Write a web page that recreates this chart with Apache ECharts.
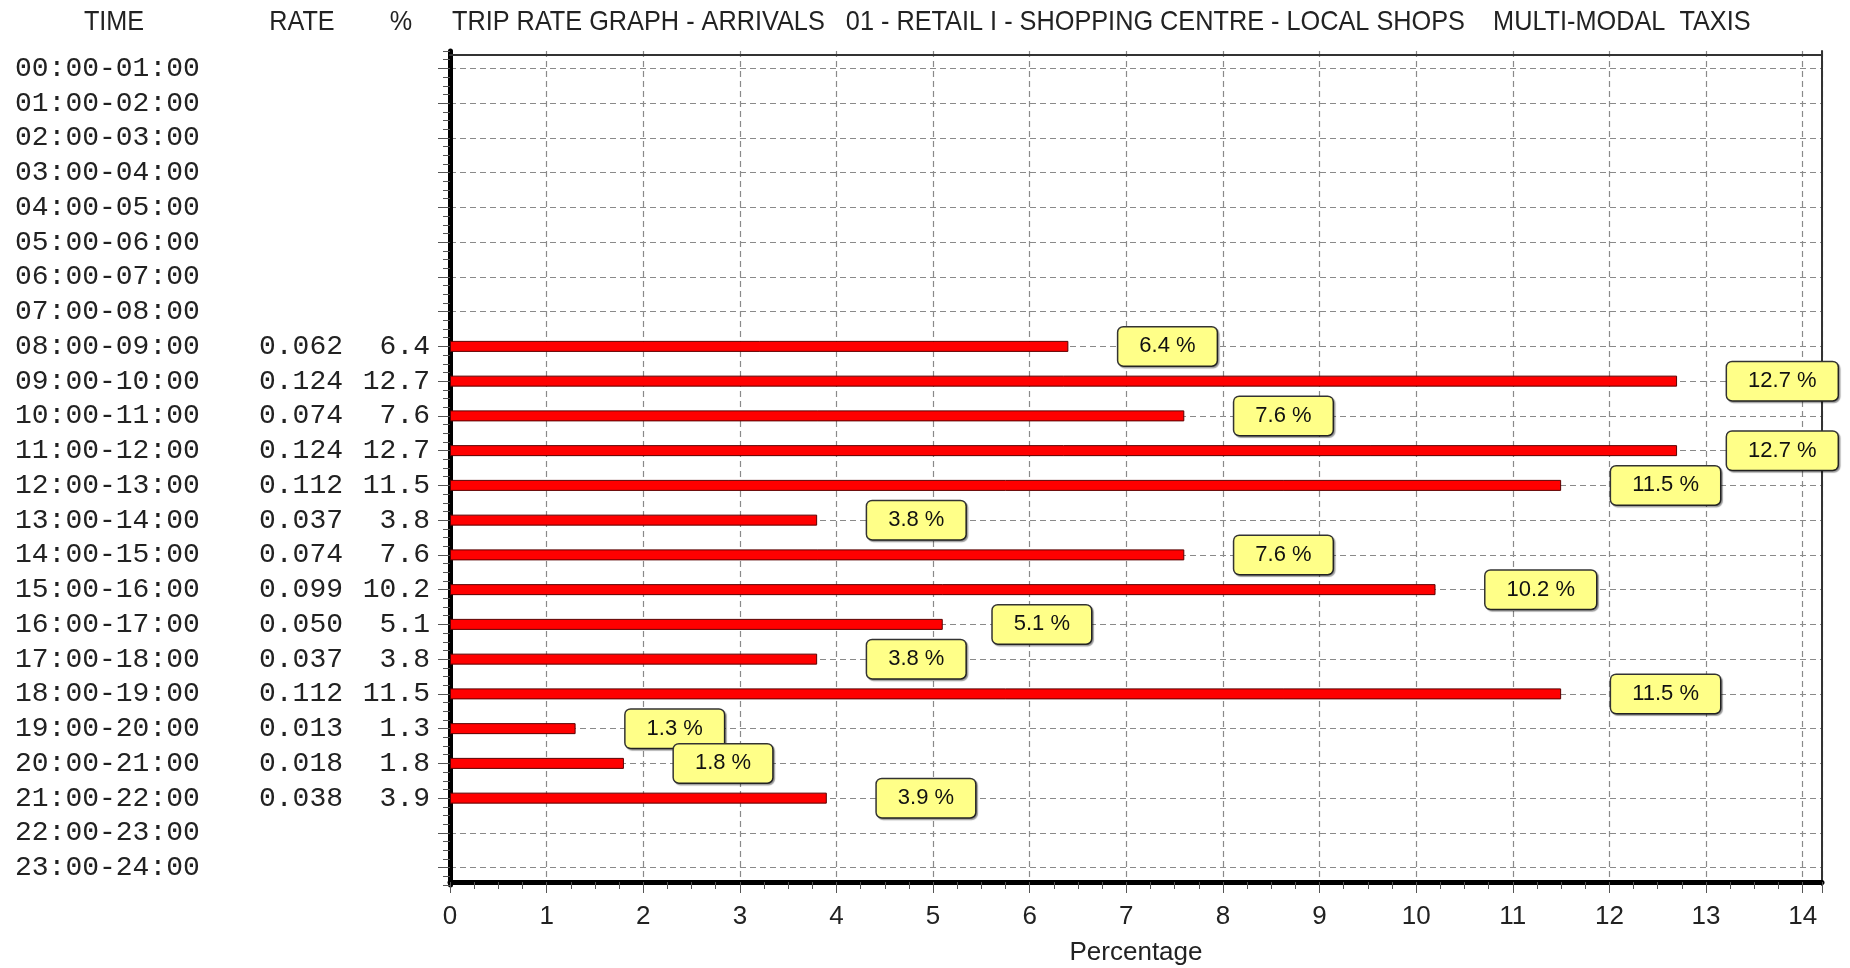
<!DOCTYPE html>
<html>
    <head>
        <meta charset="utf-8">
        <title>TRIP RATE GRAPH - ARRIVALS</title>
        <script src="https://cdn.jsdelivr.net/npm/echarts@6/dist/echarts.min.js"></script>
        <style>
            html, body {
                margin: 0;
                padding: 0;
                background: #fff;
            }
            #chart1 {
                width: 1850px;
                height: 968px;
            }
        </style>
    </head>
    <body>
        <div id="chart1"></div>
        <script type="text/javascript">
            // 时间段
            var times = ['00:00-01:00', '01:00-02:00', '02:00-03:00', '03:00-04:00', '04:00-05:00', '05:00-06:00',
                '06:00-07:00', '07:00-08:00', '08:00-09:00', '09:00-10:00', '10:00-11:00', '11:00-12:00',
                '12:00-13:00', '13:00-14:00', '14:00-15:00', '15:00-16:00', '16:00-17:00', '17:00-18:00',
                '18:00-19:00', '19:00-20:00', '20:00-21:00', '21:00-22:00', '22:00-23:00', '23:00-24:00'];
            // RATE 列
            var rates = [null, null, null, null, null, null, null, null,
                0.062, 0.124, 0.074, 0.124, 0.112, 0.037, 0.074, 0.099, 0.050, 0.037, 0.112, 0.013, 0.018, 0.038,
                null, null];
            // % 列, 也是柱子的长度
            var percents = [null, null, null, null, null, null, null, null,
                6.4, 12.7, 7.6, 12.7, 11.5, 3.8, 7.6, 10.2, 5.1, 3.8, 11.5, 1.3, 1.8, 3.9,
                null, null];
            var headers = ['TIME', 'RATE', '%'];
            var titleText = 'TRIP RATE GRAPH - ARRIVALS   01 - RETAIL I - SHOPPING CENTRE - LOCAL SHOPS    MULTI-MODAL  TAXIS';

            // 左边每行之间的小刻度 (每行4格)
            var quarterTicks = [];
            for (var i = 0; i < times.length * 4; i++) {
                quarterTicks.push('');
            }

            var myChart1 = echarts.init(document.getElementById('chart1'));

            var gridLine = {
                show: true,
                lineStyle: {color: '#8a8a8a', width: 1.2, type: [6, 4]}
            };

            myChart1.setOption({
                backgroundColor: '#fff',
                animation: false,
                graphic: [
                    {type: 'text', x: 114, y: 22, scaleX: 0.9, style: {text: headers[0], font: '28px "Liberation Sans"', fill: '#222', align: 'center', verticalAlign: 'middle', textAlign: 'center', textVerticalAlign: 'middle'}},
                    {type: 'text', x: 302, y: 22, scaleX: 0.9, style: {text: headers[1], font: '28px "Liberation Sans"', fill: '#222', align: 'center', verticalAlign: 'middle', textAlign: 'center', textVerticalAlign: 'middle'}},
                    {type: 'text', x: 401, y: 22, scaleX: 0.9, style: {text: headers[2], font: '28px "Liberation Sans"', fill: '#222', align: 'center', verticalAlign: 'middle', textAlign: 'center', textVerticalAlign: 'middle'}},
                    {type: 'text', x: 452, y: 22, scaleX: 0.903, style: {text: titleText, font: '28px "Liberation Sans"', fill: '#222', align: 'left', verticalAlign: 'middle', textAlign: 'left', textVerticalAlign: 'middle'}}
                ],
                grid: {
                    left: 450,
                    right: 28,
                    top: 51,
                    bottom: 83,
                    outerBoundsMode: 'none'
                },
                xAxis: [{
                    type: 'value',
                    position: 'bottom',
                    offset: -3,
                    min: 0,
                    max: 14.2,
                    interval: 1,
                    name: 'Percentage',
                    nameLocation: 'middle',
                    nameGap: 58,
                    nameTextStyle: {fontFamily: 'Liberation Sans', fontSize: 26, color: '#222'},
                    axisLine: {show: true, onZero: false, lineStyle: {color: '#000', width: 5}},
                    axisTick: {show: true, length: 11, lineStyle: {color: '#555'}},
                    minorTick: {show: true, splitNumber: 4, length: 7, lineStyle: {color: '#555'}},
                    axisLabel: {fontFamily: 'Liberation Sans', fontSize: 26, color: '#222', margin: 22, showMaxLabel: false},
                    splitLine: gridLine
                }, {
                    // 上边框
                    type: 'value',
                    position: 'top',
                    offset: -4,
                    min: 0,
                    max: 14.2,
                    axisLine: {show: true, onZero: false, lineStyle: {color: '#333', width: 2}},
                    axisTick: {show: false},
                    axisLabel: {show: false},
                    splitLine: {show: false}
                }],
                yAxis: [{
                    type: 'category',
                    position: 'left',
                    inverse: true,
                    data: times,
                    axisLine: {show: true, onZero: false, lineStyle: {color: '#000', width: 5}},
                    axisTick: {show: true, alignWithLabel: true, interval: 0, length: 12, lineStyle: {color: '#555'}},
                    axisLabel: {
                        interval: 0,
                        align: 'left',
                        margin: 435,
                        fontFamily: 'Liberation Mono',
                        fontSize: 28,
                        color: '#222',
                        formatter: function (value, index) {
                            var r = rates[index] == null ? ' ' : rates[index].toFixed(3);
                            var p = percents[index] == null ? ' ' : percents[index].toFixed(1);
                            return '{t|' + value + '}{r|' + r + '}{p|' + p + '}';
                        },
                        rich: {
                            t: {width: 200, align: 'left', fontFamily: 'Liberation Mono', fontSize: 28, color: '#222'},
                            r: {width: 128, align: 'right', fontFamily: 'Liberation Mono', fontSize: 28, color: '#222'},
                            p: {width: 87, align: 'right', fontFamily: 'Liberation Mono', fontSize: 28, color: '#222'}
                        }
                    },
                    splitLine: {show: true, alignWithLabel: true, interval: 0, lineStyle: gridLine.lineStyle}
                }, {
                    // 小刻度
                    type: 'category',
                    position: 'left',
                    data: quarterTicks,
                    axisLine: {show: false, onZero: false},
                    axisTick: {show: true, interval: 0, length: 7, lineStyle: {color: '#555'}},
                    axisLabel: {show: false},
                    splitLine: {show: false}
                }, {
                    // 右边框
                    type: 'value',
                    position: 'right',
                    axisLine: {show: true, onZero: false, lineStyle: {color: '#333', width: 2}},
                    axisTick: {show: false},
                    axisLabel: {show: false},
                    splitLine: {show: false}
                }],
                series: [{
                    name: '%',
                    type: 'bar',
                    xAxisIndex: 0,
                    yAxisIndex: 0,
                    data: percents,
                    barWidth: 11,
                    itemStyle: {color: '#ff0000', borderColor: '#5a0000', borderWidth: 1},
                    label: {
                        show: true,
                        position: 'right',
                        distance: 50,
                        formatter: function (p) {
                            return p.value.toFixed(1) + ' %';
                        },
                        fontFamily: 'Liberation Sans',
                        fontSize: 22,
                        color: '#111',
                        backgroundColor: '#ffff88',
                        borderColor: '#333',
                        borderWidth: 1.5,
                        borderRadius: 5,
                        padding: [8, 21, 8, 21],
                        shadowColor: 'rgba(0,0,0,0.35)',
                        shadowOffsetX: 1.5,
                        shadowOffsetY: 1.5,
                        shadowBlur: 1
                    }
                }]
            });
        </script>
    </body>
</html>
